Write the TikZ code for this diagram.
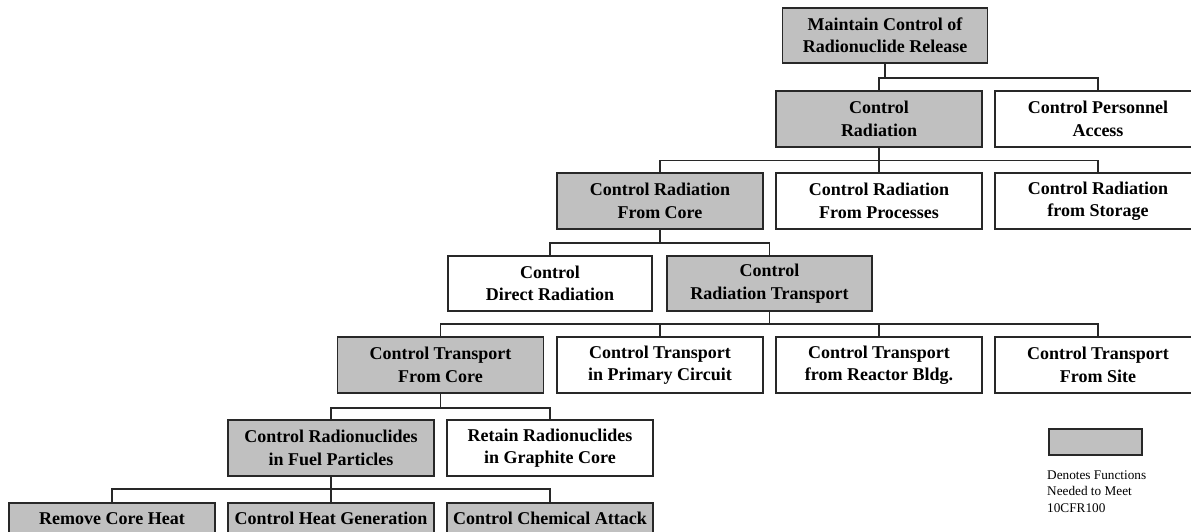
\documentclass[tikz,border=0pt]{standalone}
\usepackage{fontspec}
\setmainfont{Liberation Serif}
\definecolor{boxgray}{RGB}{192,192,192}
\definecolor{linecol}{RGB}{40,40,40}
\tikzset{
  fbox/.style={draw=linecol, line width=1.1pt, minimum width=206pt, minimum height=56pt,
    inner sep=0pt, align=center, font=\fontsize{18}{22.5}\selectfont\bfseries},
  gbox/.style={fbox, fill=boxgray},
  lowbox/.style={minimum height=31pt},
  link/.style={draw=linecol, line width=1.1pt},
  legendtext/.style={inner sep=0pt, align=left, anchor=north west,
    font=\fontsize{13.25}{16.5}\selectfont}
}
\begin{document}
\begin{tikzpicture}[x=1pt,y=-1pt]
\useasboundingbox (0,0) rectangle (1191,531);
\fill[white] (0,0) rectangle (1191,531);
\clip (0,0) rectangle (1191,531);

% levels
\node[gbox, minimum width=205pt, minimum height=55pt] (top) at (885,35.5) {Maintain Control of\\Radionuclide Release};

\node[gbox] (crad) at (879,119) {Control\\Radiation};
\node[fbox] (pers) at (1098,119) {Control Personnel\\Access};

\node[gbox] (rcore) at (660,201) {Control Radiation\\From Core};
\node[fbox] (rproc) at (879,201) {Control Radiation\\From Processes};
\node[fbox] (rstor) at (1098,201) {Control Radiation\\from Storage};

\node[fbox, minimum width=204pt, minimum height=55pt] (direct) at (550,283.5) {Control\\Direct Radiation};
\node[gbox, minimum width=205pt, minimum height=55pt] (rtrans) at (769.5,283.5) {Control\\Radiation Transport};

\node[gbox] (tcore) at (440.5,365) {Control Transport\\From Core};
\node[fbox] (tprim) at (660,365) {Control Transport\\in Primary Circuit};
\node[fbox] (tbldg) at (879,365) {Control Transport\\from Reactor Bldg.};
\node[fbox] (tsite) at (1098,365) {Control Transport\\From Site};

\node[gbox] (fuel) at (331,448) {Control Radionuclides\\in Fuel Particles};
\node[fbox] (graph) at (550,448) {Retain Radionuclides\\in Graphite Core};

\node[gbox, lowbox] (heat) at (112,518.5) {Remove Core Heat};
\node[gbox, lowbox] (gen) at (331,518.5) {Control Heat Generation};
\node[gbox, lowbox] (chem) at (550,518.5) {Control Chemical Attack};

% bar levels
\coordinate (b1) at (0,78);
\coordinate (b2) at (0,160.5);
\coordinate (b3) at (0,243);
\coordinate (b4) at (0,324);
\coordinate (b5) at (0,408);
\coordinate (b6) at (0,489);

% connectors
\draw[link] (top.south) -- (top.south |- b1);
\draw[link] (crad.north) -- (crad.north |- b1) -- (pers.north |- b1) -- (pers.north);

\draw[link] (crad.south) -- (crad.south |- b2);
\draw[link] (rcore.north) -- (rcore.north |- b2) -- (rstor.north |- b2) -- (rstor.north);
\draw[link] (rproc.north) -- (rproc.north |- b2);

\draw[link] (rcore.south) -- (rcore.south |- b3);
\draw[link] (direct.north) -- (direct.north |- b3) -- (rtrans.north |- b3) -- (rtrans.north);

\draw[link] (rtrans.south) -- (rtrans.south |- b4);
\draw[link] (tcore.north) -- (tcore.north |- b4) -- (tsite.north |- b4) -- (tsite.north);
\draw[link] (tprim.north) -- (tprim.north |- b4);
\draw[link] (tbldg.north) -- (tbldg.north |- b4);

\draw[link] (tcore.south) -- (tcore.south |- b5);
\draw[link] (fuel.north) -- (fuel.north |- b5) -- (graph.north |- b5) -- (graph.north);

\draw[link] (fuel.south) -- (fuel.south |- b6);
\draw[link] (heat.north) -- (heat.north |- b6) -- (chem.north |- b6) -- (chem.north);
\draw[link] (gen.north) -- (gen.north |- b6);

% legend
\node[draw=linecol, line width=1.1pt, fill=boxgray, minimum width=93pt, minimum height=26pt, inner sep=0pt] (legbox) at (1095.5,442) {};
\node[legendtext] (legtext) at (1047,470.5) {Denotes Functions\\Needed to Meet\\10CFR100};
\end{tikzpicture}
\end{document}
